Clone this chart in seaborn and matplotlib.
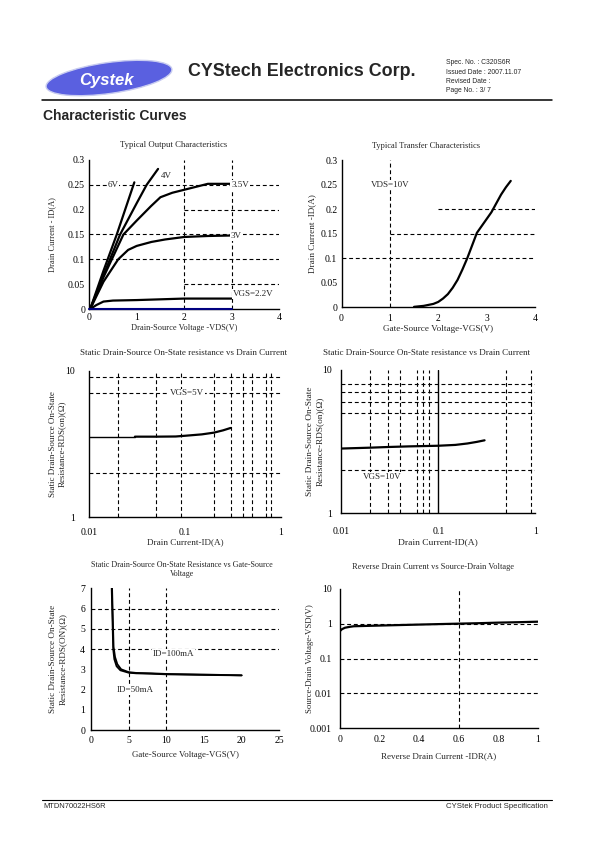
import matplotlib
matplotlib.use("Agg")
import matplotlib.pyplot as plt
from matplotlib.patches import Ellipse
from matplotlib.transforms import IdentityTransform
import seaborn as sns

# ---------------- data ----------------
# Typical output characteristics (VDS [V], ID [A])
vds_6v = [0.02, 0.3, 0.58, 0.95]
id_6v = [0.0, 0.077, 0.15, 0.255]
vds_4v = [0.02, 0.3, 0.65, 1.0, 1.21, 1.45]
id_4v = [0.0, 0.068, 0.15, 0.213, 0.25, 0.282]
vds_35v = [0.02, 0.3, 0.5, 0.72, 1.0, 1.3, 1.5, 1.75, 2.0, 2.5, 3.0]
id_35v = [0.0, 0.064, 0.105, 0.15, 0.178, 0.207, 0.225, 0.234, 0.24, 0.252, 0.252]
vds_3v = [0.02, 0.3, 0.61, 0.82, 1.0, 1.31, 1.6, 2.0, 2.5, 3.0]
id_3v = [0.0, 0.055, 0.1, 0.119, 0.127, 0.135, 0.14, 0.145, 0.147, 0.148]
vds_22v = [0.02, 0.15, 0.3, 0.5, 1.0, 2.0, 3.0]
id_22v = [0.0, 0.008, 0.015, 0.017, 0.018, 0.021, 0.021]
out_xticks = [0, 1, 2, 3, 4]
out_yticks = [0, 0.05, 0.1, 0.15, 0.2, 0.25, 0.3]
out_yticklabels = ["0", "0.05", "0.1", "0.15", "0.2", "0.25", "0.3"]

# Typical transfer characteristics (VGS [V], ID [A])
vgs_tr = [1.5, 1.7, 1.9, 2.0, 2.1, 2.2, 2.3, 2.4, 2.5, 2.6, 2.7, 2.8,
          2.9, 3.0, 3.1, 3.2, 3.3, 3.4, 3.5]
id_tr = [0.001, 0.003, 0.007, 0.011, 0.018, 0.027, 0.04, 0.056, 0.077, 0.1,
         0.126, 0.152, 0.166, 0.18, 0.194, 0.212, 0.23, 0.245, 0.258]

# RDS(on) vs ID, VGS=5V
id_r5_thin = [0.01, 0.03]
rds_r5_thin = [3.55, 3.55]
id_r5 = [0.03, 0.05, 0.08, 0.1, 0.15, 0.2, 0.25, 0.3]
rds_r5 = [3.55, 3.55, 3.56, 3.6, 3.68, 3.78, 3.92, 4.07]

# RDS(on) vs ID, VGS=10V
id_r10 = [0.01, 0.02, 0.03, 0.05, 0.08, 0.1, 0.15, 0.2, 0.25, 0.3]
rds_r10 = [2.83, 2.87, 2.9, 2.93, 2.95, 2.96, 3.0, 3.07, 3.15, 3.23]

# RDS(on) vs VGS
vgs_100 = [2.8, 2.9, 3.0, 3.2, 3.5, 4.0, 5.0, 6.0, 8.0, 10.0, 15.0, 20.0]
rds_100 = [7.0, 5.5, 4.1, 3.6, 3.25, 3.0, 2.86, 2.82, 2.8, 2.77, 2.74, 2.7]
vgs_50 = [2.75, 2.85, 2.95, 3.1, 3.4, 3.9, 5.0, 6.0, 8.0, 10.0, 15.0, 20.0]
rds_50 = [7.0, 5.5, 4.0, 3.5, 3.15, 2.95, 2.83, 2.8, 2.78, 2.75, 2.72, 2.7]

# Reverse drain current vs source-drain voltage
idr = [0, 0.01, 0.025, 0.05, 0.07, 0.1, 0.2, 0.3, 0.4, 0.5, 0.6, 0.7, 0.8, 0.9, 1.0]
vsd = [0.62, 0.7, 0.77, 0.82, 0.85, 0.86, 0.89, 0.92, 0.95, 0.98, 1.01, 1.04,
       1.08, 1.11, 1.15]

# ---------------- style ----------------
sns.set_style("white")
plt.rcParams["font.family"] = ["Liberation Serif", "DejaVu Serif"]
TICK = 7
LAB = 6.5
DASH = dict(color="black", lw=0.8, ls=(0, (3.5, 2.5)), zorder=1)

fig = plt.figure(figsize=(5.95, 8.42), dpi=100)


def make_ax(rect, xpad, ypad):
    ax = fig.add_axes(rect)
    ax.set_facecolor("white")
    for s in ("top", "right"):
        ax.spines[s].set_visible(False)
    for s in ("left", "bottom"):
        ax.spines[s].set_color("black")
        ax.spines[s].set_linewidth(1.0)
    ax.tick_params(direction="in", length=2.5, width=0.7, labelsize=TICK,
                   colors="black")
    ax.tick_params(axis="x", pad=xpad)
    ax.tick_params(axis="y", pad=ypad)
    ax.tick_params(which="minor", length=0)
    return ax


def curve(ax, x, y, lw=1.6):
    sns.lineplot(x=x, y=y, ax=ax, color="black", linewidth=lw,
                 estimator=None, sort=False, legend=False, zorder=3)


def labels(ax, title, xl, yl, tpos, xly, yly, ts, xs, ys):
    ax.text(tpos[0], tpos[1], title, transform=ax.transAxes, ha="center",
            va="center", fontsize=ts, linespacing=1.1)
    ax.set_xlabel(xl, fontsize=xs)
    ax.set_ylabel(yl, fontsize=ys, linespacing=1.3)
    ax.xaxis.set_label_coords(0.5, xly)
    ax.xaxis.label.set_va("center")
    ax.yaxis.set_label_coords(yly, 0.5)
    ax.yaxis.label.set_va("center")


lb = dict(fontsize=LAB, ha="center", va="center",
          bbox=dict(fc="white", ec="none", pad=0.6), zorder=5)

# ---------------- Plot 1: output characteristics ----------------
ax1 = make_ax([0.150, 0.633, 0.319, 0.177], 3, 3)
for yv in [0.1, 0.15, 0.25]:
    ax1.axhline(yv, **DASH)
for yv in [0.05, 0.2]:
    ax1.axhline(yv, xmin=0.5, xmax=1.0, **DASH)
for xv in [2, 3]:
    ax1.axvline(xv, **DASH)
ax1.plot([0, 3], [0, 0], color="#000080", lw=1.5, zorder=4, clip_on=False)
curve(ax1, vds_6v, id_6v)
curve(ax1, vds_4v, id_4v)
curve(ax1, vds_35v, id_35v)
curve(ax1, vds_3v, id_3v)
curve(ax1, vds_22v, id_22v)
ax1.set_xlim(0, 4)
ax1.set_ylim(0, 0.3)
ax1.set_xticks(out_xticks, [str(v) for v in out_xticks])
ax1.set_yticks(out_yticks, out_yticklabels)
ax1.text(0.5, 0.25, "6V", **lb)
ax1.text(1.62, 0.268, "4V", **lb)
ax1.text(3.18, 0.25, "3.5V", **lb)
ax1.text(3.1, 0.146, "3V", **lb)
ax1.text(3.45, 0.03, "VGS=2.2V", **lb)
labels(ax1, "Typical Output Characteristics", "Drain-Source Voltage -VDS(V)",
       "Drain Current - ID(A)", (0.446, 1.10), -0.13, -0.196,
       6.3, 6.0, 6.0)

# ---------------- Plot 2: transfer characteristics ----------------
ax2 = make_ax([0.574, 0.635, 0.325, 0.1746], 4.5, 3)
ax2.axhline(0.1, **DASH)
ax2.axhline(0.15, xmin=0.25, xmax=1.0, **DASH)
ax2.axhline(0.2, xmin=0.5, xmax=1.0, **DASH)
ax2.axvline(1, **DASH)
curve(ax2, vgs_tr, id_tr)
ax2.set_xlim(0, 4)
ax2.set_ylim(0, 0.3)
ax2.set_xticks(out_xticks, [str(v) for v in out_xticks])
ax2.set_yticks(out_yticks, out_yticklabels)
ax2.text(1.0, 0.25, "VDS=10V", **lb)
labels(ax2, "Typical Transfer Characteristics", "Gate-Source Voltage-VGS(V)",
       "Drain Current -ID(A)", (0.439, 1.095), -0.15, -0.153,
       6.0, 6.6, 6.6)

# ---------------- Plot 3: RDS(on) vs ID, VGS=5V ----------------
ax3 = make_ax([0.150, 0.3856, 0.3217, 0.1741], 8, 10)
ax3.set_xscale("log")
ax3.set_yscale("log")
for xv in [0.02, 0.05, 0.09, 0.2, 0.3, 0.4, 0.5, 0.7, 0.8]:
    ax3.axvline(xv, **DASH)
for yv in [2, 7, 9]:
    ax3.axhline(yv, **DASH)
curve(ax3, id_r5_thin, rds_r5_thin, lw=1.0)
curve(ax3, id_r5, rds_r5)
ax3.set_xlim(0.01, 1)
ax3.set_ylim(1, 10)
ax3.set_xticks([0.01, 0.1, 1], ["0.01", "0.1", "1"])
ax3.set_yticks([1, 10], ["1", "10"])
ax3.minorticks_off()
ax3.text(0.105, 7.0, "VGS=5V", **lb)
labels(ax3, "Static Drain-Source On-State resistance vs Drain Current",
       "Drain Current-ID(A)",
       "Static Drain-Source On-State\nResistance-RDS(on)(\u03a9)",
       (0.491, 1.119), -0.168, -0.166, 6.5, 6.6, 6.5)

# ---------------- Plot 4: RDS(on) vs ID, VGS=10V ----------------
ax4 = make_ax([0.5736, 0.3904, 0.326, 0.1702], 10, 7)
ax4.set_xscale("log")
ax4.set_yscale("log")
for xv in [0.02, 0.03, 0.04, 0.06, 0.07, 0.08, 0.5, 0.9]:
    ax4.axvline(xv, **DASH)
ax4.axvline(0.1, color="black", lw=1.0, zorder=1)
for yv in [2, 5, 6, 7, 8]:
    ax4.axhline(yv, **DASH)
curve(ax4, id_r10, rds_r10)
ax4.set_xlim(0.01, 1)
ax4.set_ylim(1, 10)
ax4.set_xticks([0.01, 0.1, 1], ["0.01", "0.1", "1"])
ax4.set_yticks([1, 10], ["1", "10"])
ax4.minorticks_off()
ax4.text(0.0265, 1.8, "VGS=10V", **lb)
labels(ax4, "Static Drain-Source On-State resistance vs Drain Current",
       "Drain Current-ID(A)",
       "Static Drain-Source On-State\nResistance-RDS(on)(\u03a9)",
       (0.44, 1.121), -0.2, -0.136, 6.5, 6.8, 6.7)

# ---------------- Plot 5: RDS(on) vs VGS ----------------
ax5 = make_ax([0.1529, 0.1330, 0.3165, 0.1683], 4, 4.3)
for yv in [4, 5, 6]:
    ax5.axhline(yv, **DASH)
for xv in [5, 10]:
    ax5.axvline(xv, **DASH)
curve(ax5, vgs_100, rds_100, lw=1.3)
curve(ax5, vgs_50, rds_50, lw=1.3)
ax5.set_xlim(0, 25)
ax5.set_ylim(0, 7)
ax5.set_xticks([0, 5, 10, 15, 20, 25], ["0", "5", "10", "15", "20", "25"])
ax5.set_yticks(range(8), [str(v) for v in range(8)])
ax5.text(10.9, 3.74, "ID=100mA", **lb)
ax5.text(5.8, 1.98, "ID=50mA", **lb)
labels(ax5, "Static Drain-Source On-State Resistance vs Gate-Source\nVoltage",
       "Gate-Source Voltage-VGS(V)",
       "Static Drain-Source On-State\nResistance-RDS(ON)(\u03a9)",
       (0.482, 1.131), -0.176, -0.175, 5.8, 6.4, 6.6)

# ---------------- Plot 6: reverse drain current ----------------
ax6 = make_ax([0.5714, 0.1351, 0.3328, 0.1654], 5, 6)
ax6.set_yscale("log")
for yv in [0.01, 0.1, 1]:
    ax6.axhline(yv, **DASH)
ax6.axvline(0.6, **DASH)
curve(ax6, idr, vsd)
ax6.set_xlim(0, 1)
ax6.set_ylim(0.001, 10)
ax6.set_xticks([0, 0.2, 0.4, 0.6, 0.8, 1], ["0", "0.2", "0.4", "0.6", "0.8", "1"])
ax6.set_yticks([0.001, 0.01, 0.1, 1, 10], ["0.001", "0.01", "0.1", "1", "10"])
ax6.minorticks_off()
labels(ax6, "Reverse Drain Current vs Source-Drain Voltage",
       "Reverse Drain Current -IDR(A)", "Source-Drain Voltage-VSD(V)",
       (0.471, 1.16), -0.199, -0.152, 6.0, 6.5, 6.3)

# ---------------- page header / footer ----------------
H = 842
sans = ["Liberation Sans", "DejaVu Sans"]
logo = Ellipse((109, H - 78), 127, 31, angle=8, facecolor="#5a60e0",
               edgecolor="#c8ccf0", lw=1.0, transform=IdentityTransform())
fig.patches.append(logo)
fig.text(106 / 595, 1 - 80 / H, "Cystek", family=sans, fontsize=12,
         fontweight="bold", color="white", ha="center", va="center",
         style="italic")
fig.text(188 / 595, 1 - 72 / H, "CYStech Electronics Corp.", family=sans,
         fontsize=12.9, fontweight="bold", ha="left", va="center")
for i, t in enumerate(["Spec. No. : C320S6R", "Issued Date : 2007.11.07",
                       "Revised Date :", "Page No. : 3/ 7"]):
    fig.text(446 / 595, 1 - (63 + 9.3 * i) / H, t, family=sans, fontsize=4.9,
             ha="left", va="center")
fig.add_artist(plt.Line2D([42 / 595, 552 / 595], [1 - 99.5 / H, 1 - 99.5 / H],
                          color="black", lw=1.1, transform=fig.transFigure))
fig.text(43 / 595, 1 - 116 / H, "Characteristic Curves", family=sans,
         fontsize=10, fontweight="bold", ha="left", va="center")
fig.add_artist(plt.Line2D([42 / 595, 552 / 595], [1 - 800 / H, 1 - 800 / H],
                          color="black", lw=0.8, transform=fig.transFigure))
fig.text(43 / 595, 1 - 806 / H, "MTDN70022HS6R", family=sans, fontsize=5.4,
         ha="left", va="center")
fig.text(548 / 595, 1 - 806 / H, "CYStek Product Specification", family=sans,
         fontsize=5.6, ha="right", va="center")

fig.savefig("out.png", dpi=100, facecolor="white")
